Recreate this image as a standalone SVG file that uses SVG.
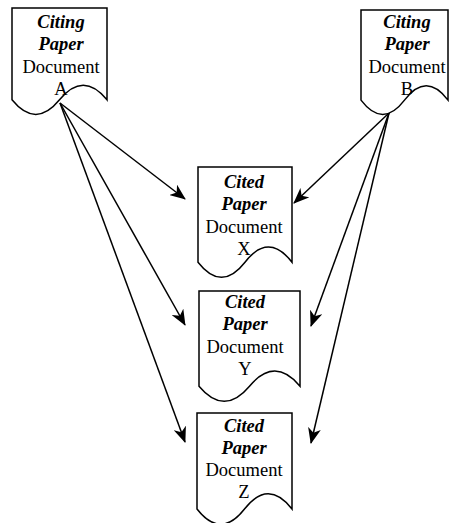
<svg xmlns="http://www.w3.org/2000/svg" width="449" height="523" viewBox="0 0 449 523">
<style>
.doc{fill:#ffffff;stroke:#000000;stroke-width:1.5;stroke-linejoin:miter}
.t{font-family:'Liberation Serif','DejaVu Serif',serif;font-size:18.5px;fill:#000000;text-anchor:middle}
.b{font-weight:bold;font-style:italic}
.edge{stroke:#000000;stroke-width:1.5;fill:none;marker-end:url(#arr)}
</style>
<defs>
<marker id="arr" viewBox="0 0 16 13" refX="15" refY="6.5" markerWidth="16" markerHeight="13" markerUnits="userSpaceOnUse" orient="auto">
<path d="M0,0 L16,6.5 L0,13 L4.5,6.5 Z" fill="#000000"/>
</marker>
</defs>
<rect x="0" y="0" width="449" height="523" fill="#ffffff"/>
<g id="connectors">
<line class="edge" x1="60" y1="103" x2="185" y2="199"/>
<line class="edge" x1="60" y1="103" x2="185" y2="325"/>
<line class="edge" x1="60" y1="103" x2="185" y2="442"/>
<line class="edge" x1="389" y1="113" x2="294" y2="203"/>
<line class="edge" x1="389" y1="113" x2="311" y2="326"/>
<line class="edge" x1="389" y1="113" x2="311" y2="443"/>
</g>
<g id="docA">
<path class="doc" d="M12,8 H107 V99.8 Q83.25,70.6 59.5,99.8 Q35.75,129 12,99.8 Z"/>
<text class="t b" x="61" y="28">Citing</text>
<text class="t b" x="61" y="50">Paper</text>
<text class="t" x="61" y="73">Document</text>
<text class="t" x="61" y="95">A</text>
</g>
<g id="docB">
<path class="doc" d="M361,10 H448 V100.1 Q426.25,71.5 404.5,100.1 Q382.75,128.7 361,100.1 Z"/>
<text class="t b" x="407" y="28">Citing</text>
<text class="t b" x="407" y="50">Paper</text>
<text class="t" x="407" y="73">Document</text>
<text class="t" x="407" y="95">B</text>
</g>
<g id="docX">
<path class="doc" d="M198,167 H292 V262.2 Q268.5,232 245,262.2 Q221.5,292.4 198,262.2 Z"/>
<text class="t b" x="244" y="188">Cited</text>
<text class="t b" x="244" y="210">Paper</text>
<text class="t" x="244" y="233">Document</text>
<text class="t" x="244" y="255">X</text>
</g>
<g id="docY">
<path class="doc" d="M199,291 H300 V386.2 Q274.75,356 249.5,386.2 Q224.25,416.4 199,386.2 Z"/>
<text class="t b" x="245" y="308">Cited</text>
<text class="t b" x="245" y="330">Paper</text>
<text class="t" x="245" y="353">Document</text>
<text class="t" x="245" y="375">Y</text>
</g>
<g id="docZ">
<path class="doc" d="M197,413 H292 V509 Q268.25,478.5 244.5,509 Q220.75,539.5 197,509 Z"/>
<text class="t b" x="244" y="432">Cited</text>
<text class="t b" x="244" y="454">Paper</text>
<text class="t" x="244" y="476">Document</text>
<text class="t" x="244" y="498">Z</text>
</g>
</svg>
